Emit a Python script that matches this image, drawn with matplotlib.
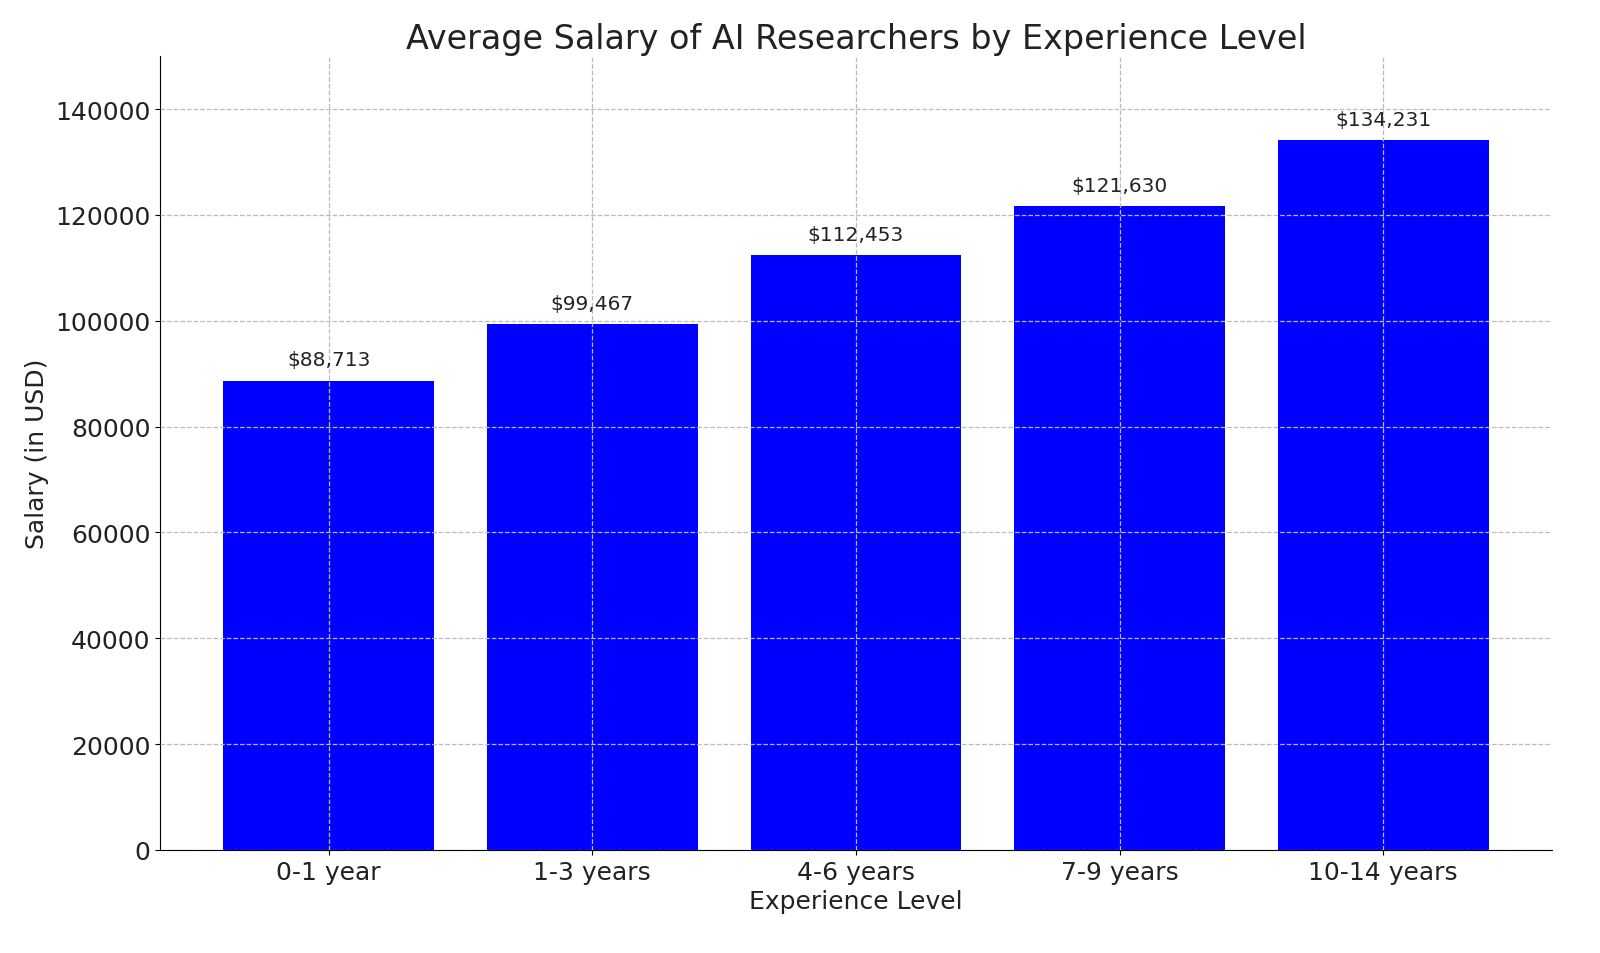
import matplotlib
matplotlib.use("Agg")
import matplotlib.pyplot as plt

categories = ["0-1 year", "1-3 years", "4-6 years", "7-9 years", "10-14 years"]
salaries = [88713, 99467, 112453, 121630, 134231]

fig, ax = plt.subplots(figsize=(16, 9.54), dpi=100)
fig.subplots_adjust(left=0.1, right=0.97, top=0.94, bottom=0.108)
bars = ax.bar(categories, salaries, color="blue", width=0.8)
for b, v in zip(bars, salaries):
    ax.annotate(f"${v:,}", (b.get_x() + b.get_width() / 2, v), xytext=(0, 8),
                textcoords="offset points", ha="center", va="bottom", fontsize=14.5, color="#222222")
ax.set_ylim(0, 150000)
ax.set_title("Average Salary of AI Researchers by Experience Level", fontsize=24, color="#222222")
ax.set_xlabel("Experience Level", fontsize=18, color="#222222")
ax.set_ylabel("Salary (in USD)", fontsize=18, color="#222222")
ax.tick_params(labelsize=18, labelcolor="#222222")
ax.grid(True, linestyle="--", color="#bbbbbb", linewidth=0.9)
ax.set_axisbelow(False)
for s in ["top", "right"]:
    ax.spines[s].set_visible(False)
fig.savefig("out.png")
